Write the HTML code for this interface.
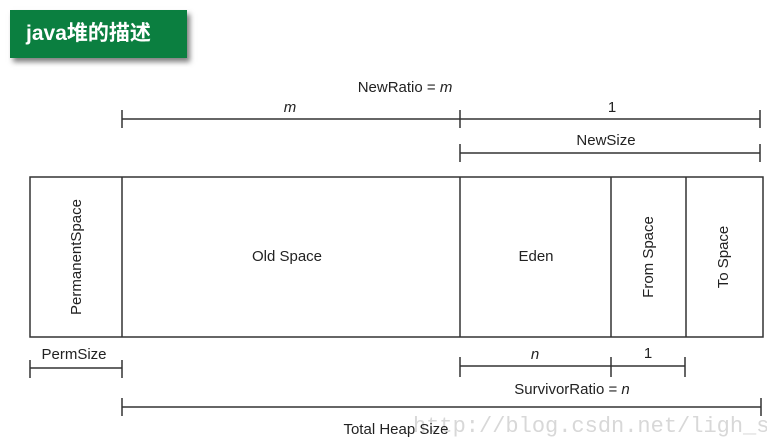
<!DOCTYPE html>
<html><head><style>
body{margin:0;width:767px;height:440px;background:#fff;overflow:hidden;position:relative;font-family:"Liberation Sans",Arial,sans-serif;}
.t{position:absolute;left:10px;top:10px;width:177px;height:48px;background:#0b7f40;box-shadow:3px 4px 5px rgba(0,0,0,0.5);color:#fff;font:bold 21px "Liberation Sans","Noto Sans CJK SC",sans-serif;line-height:48px;padding-left:16px;box-sizing:border-box;}
</style></head><body>
<div class="t">java堆的描述</div>
<svg width="767" height="440" style="position:absolute;left:0;top:0" font-family="Liberation Sans, Arial, sans-serif" font-size="15" fill="#222">
<text x="413" y="432" font-family="Liberation Mono, monospace" font-size="22" fill="#d8d8d8">http://blog.csdn.net/ligh_sql</text>
<g stroke="#333" stroke-width="1.5" fill="none">
<rect x="30" y="177" width="733" height="160"/>
<line x1="122" y1="177" x2="122" y2="337"/>
<line x1="460" y1="177" x2="460" y2="337"/>
<line x1="611" y1="177" x2="611" y2="337"/>
<line x1="686" y1="177" x2="686" y2="337"/>
<line x1="122" y1="119" x2="760" y2="119"/>
<line x1="122" y1="110" x2="122" y2="128"/><line x1="460" y1="110" x2="460" y2="128"/><line x1="760" y1="110" x2="760" y2="128"/>
<line x1="460" y1="153" x2="760" y2="153"/>
<line x1="460" y1="144" x2="460" y2="162"/><line x1="760" y1="144" x2="760" y2="162"/>
<line x1="30" y1="368" x2="122" y2="368"/>
<line x1="30" y1="360" x2="30" y2="378"/><line x1="122" y1="360" x2="122" y2="378"/>
<line x1="460" y1="366" x2="685" y2="366"/>
<line x1="460" y1="357" x2="460" y2="377"/><line x1="611" y1="357" x2="611" y2="377"/><line x1="685" y1="357" x2="685" y2="377"/>
<line x1="122" y1="407" x2="761" y2="407"/>
<line x1="122" y1="398" x2="122" y2="416"/><line x1="761" y1="398" x2="761" y2="416"/>
</g>
<text x="405" y="92" text-anchor="middle">NewRatio = <tspan font-style="italic">m</tspan></text>
<text x="290" y="112" text-anchor="middle" font-style="italic">m</text>
<text x="612" y="112" text-anchor="middle">1</text>
<text x="606" y="145" text-anchor="middle">NewSize</text>
<text x="287" y="261" text-anchor="middle">Old Space</text>
<text x="536" y="261" text-anchor="middle">Eden</text>
<text transform="translate(81,257) rotate(-90)" text-anchor="middle">PermanentSpace</text>
<text transform="translate(653,257) rotate(-90)" text-anchor="middle">From Space</text>
<text transform="translate(728,257) rotate(-90)" text-anchor="middle">To Space</text>
<text x="74" y="359" text-anchor="middle">PermSize</text>
<text x="535" y="359" text-anchor="middle" font-style="italic">n</text>
<text x="648" y="358" text-anchor="middle">1</text>
<text x="572" y="394" text-anchor="middle">SurvivorRatio = <tspan font-style="italic">n</tspan></text>
<text x="396" y="434" text-anchor="middle">Total Heap Size</text>
</svg>
</body></html>
